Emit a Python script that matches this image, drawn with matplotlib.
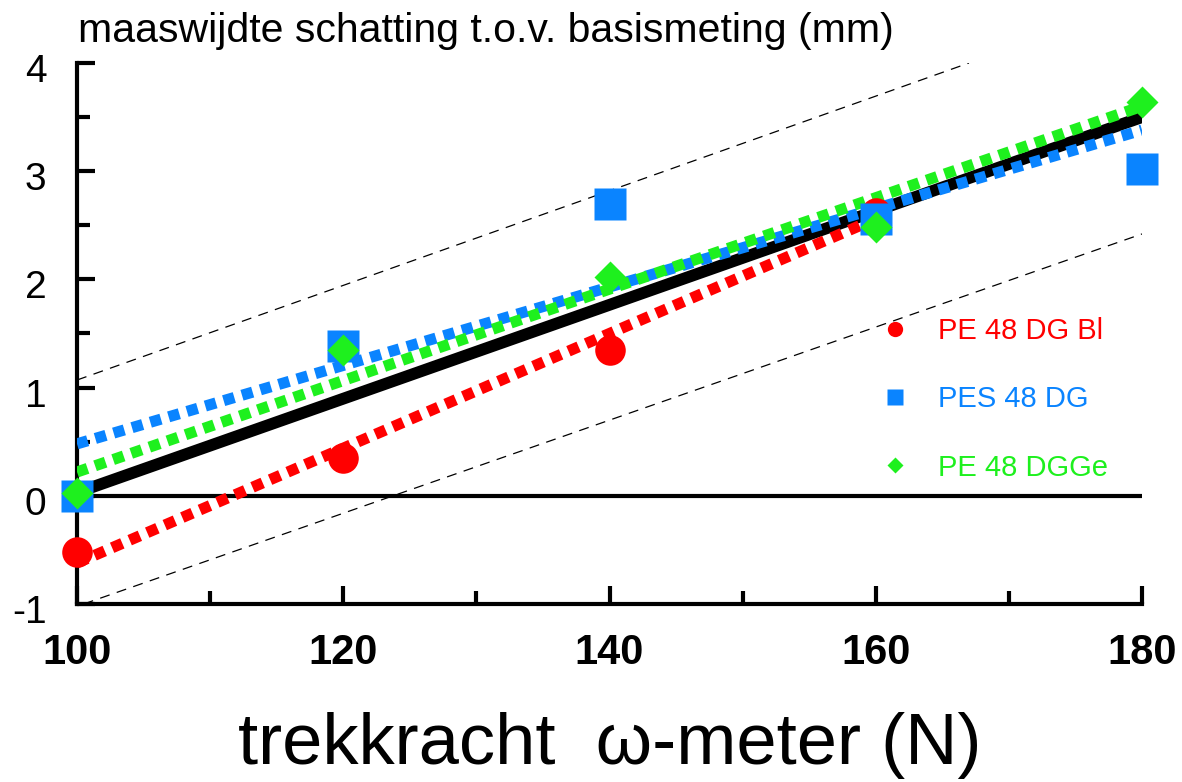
import matplotlib
matplotlib.use("Agg")
import matplotlib.pyplot as plt
import matplotlib.transforms as mtransforms
from matplotlib.lines import Line2D

plt.rcParams['font.family'] = ['Liberation Sans', 'DejaVu Sans']
plt.rcParams['axes.unicode_minus'] = False

# meetpunten
x_red = [100, 120, 140, 160]
y_red = [-0.52, 0.35, 1.35, 2.61]
x_pts = [100, 120, 140, 160, 180]
y_blue = [0.0, 1.38, 2.70, 2.56, 3.02]
y_green = [0.03, 1.35, 2.02, 2.48, 3.64]

x_red_fit = [100, 160]
y_red_fit = [-0.62, 2.56]
x_fit = [100, 180]
y_blue_fit = [0.48, 3.38]
y_green_fit = [0.22, 3.60]
y_black = [0.03, 3.50]

# grenslijnen (gestreept)
x_upper = [100, 167]
y_upper = [1.07, 4.0]
x_lower = [100.5, 180]
y_lower = [-1.0, 2.42]

labels = ['PE 48 DG Bl', 'PES 48 DG', 'PE 48 DGGe']
red = '#FF0000'
blue = '#0A84FF'
green = '#1EF01E'

fig = plt.figure(figsize=(11.82, 7.82), dpi=100)
ax = fig.add_axes([77/1182, 1 - 604/782, (1142 - 77)/1182, (604 - 63)/782])

ax.axhline(0, color='black', lw=3, zorder=1)
ax.plot(x_upper, y_upper, color='black', lw=0.9, dashes=(8, 6), zorder=2)
ax.plot(x_lower, y_lower, color='black', lw=0.9, dashes=(8, 6), zorder=2)
ax.plot(x_fit, y_black, color='black', lw=8.5, solid_capstyle='round', zorder=3)

dot = dict(lw=8, dashes=(1.0, 0.72), dash_capstyle='butt')
ax.plot(x_red_fit, y_red_fit, color=red, zorder=4, **dot)
ax.plot(x_fit, y_blue_fit, color=blue, zorder=5, **dot)
ax.plot(x_fit, y_green_fit, color=green, zorder=6, **dot)

ax.plot(x_red, y_red, 'o', color=red, ms=22, mec='none', zorder=7, clip_on=False)
ax.plot(x_pts, y_blue, 's', color=blue, ms=23, mec='none', zorder=8, clip_on=False)
ax.plot(x_pts, y_green, 'D', color=green, ms=16, mec='none', zorder=9, clip_on=False)

ax.set_xlim(100, 180)
ax.set_ylim(-1, 4)
ax.set_xticks([100, 120, 140, 160, 180])
ax.set_xticks([110, 130, 150, 170], minor=True)
ax.set_yticks([-1, 0, 1, 2, 3, 4])
ax.set_yticks([-0.5, 0.5, 1.5, 2.5, 3.5], minor=True)

for s in ['top', 'right']:
    ax.spines[s].set_visible(False)
for s in ['left', 'bottom']:
    ax.spines[s].set_linewidth(3)

ax.tick_params(axis='both', which='major', direction='in', length=13, width=3)
ax.tick_params(axis='both', which='minor', direction='in', length=9.5, width=3)
ax.tick_params(axis='y', which='major', labelsize=28, pad=22)
ax.tick_params(axis='x', which='major', labelsize=30, pad=21)
for t in ax.get_xticklabels():
    t.set_fontweight('bold')
shift = mtransforms.ScaledTranslation(0, -5/100, fig.dpi_scale_trans)
for t in ax.get_yticklabels():
    t.set_transform(t.get_transform() + shift)

fig.text(78/1182, 1 - 42/782, 'maaswijdte schatting t.o.v. basismeting (mm)',
         fontsize=29.5, ha='left', va='baseline')
fig.text(610/1182, 1 - 764/782, 'trekkracht  ω-meter (N)',
         fontsize=52, ha='center', va='baseline')

handles = [Line2D([], [], ls='none', marker='o', color=red, ms=11, mec='none'),
           Line2D([], [], ls='none', marker='s', color=blue, ms=11, mec='none'),
           Line2D([], [], ls='none', marker='D', color=green, ms=8.5, mec='none')]
leg = ax.legend(handles, labels, loc='upper left',
                bbox_to_anchor=(880/1182, 1 - 317/782),
                bbox_transform=fig.transFigure, frameon=False, fontsize=21,
                handlelength=1.0, handletextpad=1.0, labelspacing=1.38,
                borderpad=0, borderaxespad=0)
for txt, c in zip(leg.get_texts(), [red, blue, green]):
    txt.set_color(c)

fig.savefig('out.png', dpi=100)
